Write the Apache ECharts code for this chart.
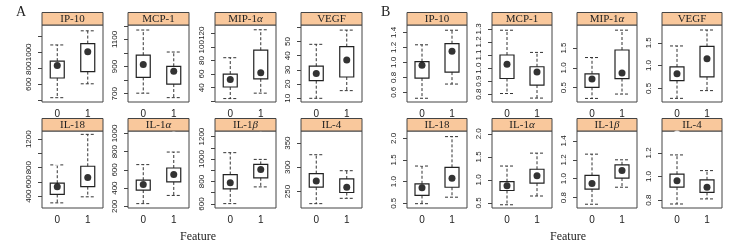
<!DOCTYPE html>
<html>
<head>
<meta charset="utf-8">
<script src="https://cdn.jsdelivr.net/npm/echarts@6/dist/echarts.min.js"></script>
<style>
  html, body { margin: 0; padding: 0; background: #fff; }
  #main { width: 732px; height: 247px; }
</style>
</head>
<body>
<div id="main"></div>
<script>
// categories
const cats = ['0', '1'];
const markers = ['IP-10', 'MCP-1', 'MIP-1α', 'VEGF', 'IL-18', 'IL-1α', 'IL-1β', 'IL-4'];

// panel A: [min, q1, median, q3, max] for feature 0 and feature 1
const boxA = [
    [[432, 679, 835, 890, 1093], [606, 759, 1009, 1110, 1270]],
    [[704, 820, 915, 984, 1169], [671, 771, 865, 902, 1007]],
    [[24, 41, 52, 60, 84], [32, 53, 62, 95, 125]],
    [[10, 22.4, 27.4, 32.6, 48], [15.4, 25, 37, 46.4, 58]],
    [[306, 424, 534, 582, 839], [391, 534, 663, 820, 1268]],
    [[230, 379, 439, 487, 658], [320, 468, 551, 621, 796]],
    [[603, 734, 788, 862, 1057], [752, 833, 907, 952, 997]],
    [[225, 259, 272, 287, 326], [236, 248, 259, 276, 293]]
];
const outA = [
    [[], []], [[], []], [[93], []], [[], []],
    [[878], []], [[], [982]], [[], [1212, 647]], [[365, 357, 347], []]
];
const rangeA = [[378, 1343], [639, 1206], [19, 132], [7.4, 61.6], [234, 1315], [182, 1027], [564, 1250], [216, 375]];
const ticksA = [
    [400, 600, 800, 1000, 1200], [700, 800, 900, 1000, 1100, 1200], [20, 40, 60, 80, 100, 120], [10, 20, 30, 40, 50, 60],
    [400, 600, 800, 1000, 1200], [200, 400, 600, 800, 1000], [600, 700, 800, 900, 1000, 1100, 1200], [250, 300, 350]
];
const labelsA = [
    [600, 800, 1000], [700, 900, 1100], [40, 60, 80, 100, 120], [10, 20, 30, 40, 50],
    [400, 600, 800, 1200], [200, 400, 600, 800, 1000], [600, 800, 1000, 1200], [250, 300, 350]
];

// panel B
const boxB = [
    [[0.52, 0.79, 0.96, 1.01, 1.235], [0.71, 0.87, 1.15, 1.25, 1.43]],
    [[0.805, 0.92, 1.03, 1.10, 1.29], [0.77, 0.87, 0.97, 1.01, 1.12]],
    [[0.23, 0.51, 0.72, 0.85, 1.26], [0.34, 0.73, 0.87, 1.45, 1.95]],
    [[0.28, 0.67, 0.82, 0.97, 1.43], [0.45, 0.75, 1.15, 1.42, 1.78]],
    [[0.49, 0.68, 0.86, 0.95, 1.36], [0.64, 0.87, 1.08, 1.33, 2.04]],
    [[0.46, 0.77, 0.87, 0.96, 1.30], [0.65, 0.93, 1.09, 1.23, 1.58]],
    [[0.73, 0.89, 0.95, 1.035, 1.26], [0.91, 1.007, 1.087, 1.147, 1.20]],
    [[0.767, 0.91, 0.964, 1.02, 1.183], [0.81, 0.865, 0.91, 0.972, 1.05]]
];
const outB = [
    [[], []], [[], []], [[1.42], []], [[], []],
    [[1.44], []], [[], [1.94]], [[], [1.445, 0.79]], [[1.36, 1.324, 1.268], []]
];
const rangeB = [[0.47, 1.50], [0.74, 1.33], [0.14, 2.08], [0.20, 1.89], [0.39, 2.17], [0.39, 2.06], [0.69, 1.505], [0.733, 1.386]];
const ticksB = [
    [0.6, 0.8, 1.0, 1.2, 1.4], [0.8, 0.9, 1.0, 1.1, 1.2, 1.3], [0.5, 1.0, 1.5], [0.5, 1.0, 1.5],
    [0.5, 1.0, 1.5, 2.0], [0.5, 1.0, 1.5, 2.0], [0.8, 1.0, 1.2, 1.4], [0.8, 1.0, 1.2]
];
const labelsB = ticksB;

// layout
const colA = [42, 128, 215, 301];
const colB = [407, 492, 577, 662];
const rowTop = [25, 131];
const plotH = 77;
const stripH = 12.5;

const chart = echarts.init(document.getElementById('main'), null, { renderer: 'canvas' });

function renderBox(params, api) {
    const c = api.value(0);
    const pMin = api.coord([c, api.value(1)]);
    const pQ1 = api.coord([c, api.value(2)]);
    const pQ3 = api.coord([c, api.value(4)]);
    const pMax = api.coord([c, api.value(5)]);
    const x = pMin[0];
    const half = 7;
    const dash = { stroke: '#333', lineWidth: 1, lineDash: [3, 2] };
    return {
        type: 'group',
        children: [
            { type: 'line', shape: { x1: x, y1: pQ3[1], x2: x, y2: pMax[1] }, style: dash },
            { type: 'line', shape: { x1: x, y1: pQ1[1], x2: x, y2: pMin[1] }, style: dash },
            { type: 'line', shape: { x1: x - half, y1: pMax[1], x2: x + half, y2: pMax[1] }, style: dash },
            { type: 'line', shape: { x1: x - half, y1: pMin[1], x2: x + half, y2: pMin[1] }, style: dash },
            { type: 'rect', shape: { x: x - half, y: pQ3[1], width: half * 2, height: pQ1[1] - pQ3[1] },
              style: { fill: 'none', stroke: '#222', lineWidth: 1.2 } }
        ]
    };
}

const option = {
    animation: false,
    grid: [], xAxis: [], yAxis: [], series: [], graphic: []
};

const sides = [
    { tag: 'A', boxes: boxA, outs: outA, range: rangeA, ticks: ticksA, labels: labelsA, cols: colA, w: 61, dec: 0, featX: 198 },
    { tag: 'B', boxes: boxB, outs: outB, range: rangeB, ticks: ticksB, labels: labelsB, cols: colB, w: 60, dec: 1, featX: 568 }
];

let gi = 0;
sides.forEach(s => {
    option.graphic.push({
        type: 'text', left: s.cols[0] - 26, top: 5,
        style: { text: s.tag, font: '14px "Liberation Serif"', fill: '#222' }
    });
    option.graphic.push({
        type: 'text', x: s.featX, y: 237,
        style: { text: 'Feature', font: '12px "Liberation Serif"', fill: '#222', align: 'center', verticalAlign: 'middle' }
    });
    for (let p = 0; p < 8; p++) {
        const row = p < 4 ? 0 : 1;
        const left = s.cols[p % 4];
        const top = rowTop[row];
        option.grid.push({
            left: left, top: top, width: s.w, height: plotH,
            show: true, borderColor: '#444', borderWidth: 1, backgroundColor: 'transparent'
        });
        option.xAxis.push({
            type: 'category', gridIndex: gi, data: cats,
            axisLine: { show: false }, axisTick: { show: false },
            axisLabel: { fontSize: 10, color: '#222', margin: 7, fontFamily: '"Liberation Sans"' }
        });
        option.yAxis.push({
            type: 'value', gridIndex: gi, min: s.range[p][0], max: s.range[p][1],
            splitLine: { show: false },
            axisLine: { show: false },
            axisTick: { show: true, length: 4, customValues: s.ticks[p], lineStyle: { color: '#444' } },
            axisLabel: {
                rotate: 90, fontSize: 8, color: '#222', margin: 9, fontFamily: '"Liberation Sans"',
                showMinLabel: true, showMaxLabel: true,
                customValues: s.labels[p],
                formatter: v => s.dec ? Number(v).toFixed(1) : String(v)
            }
        });
        // header strip
        option.graphic.push({
            type: 'rect',
            shape: { x: left, y: top - stripH, width: s.w, height: stripH },
            style: { fill: '#f9c89c', stroke: '#444', lineWidth: 1 }
        });
        const name = markers[p];
        const greek = name.endsWith('α') || name.endsWith('β');
        option.graphic.push({
            type: 'text', x: left + s.w / 2, y: top - stripH / 2 + 0.5,
            style: greek ? {
                text: '{n|' + name.slice(0, -1) + '}{g|' + name.slice(-1) + '}',
                align: 'center', verticalAlign: 'middle',
                rich: {
                    n: { font: '11px "Liberation Serif"', fill: '#222' },
                    g: { font: 'italic 11px "Liberation Serif"', fill: '#222' }
                }
            } : {
                text: name, font: '11px "Liberation Serif"', fill: '#222',
                align: 'center', verticalAlign: 'middle'
            }
        });
        // boxes, medians, outliers
        option.series.push({
            type: 'custom', xAxisIndex: gi, yAxisIndex: gi,
            renderItem: renderBox,
            encode: { x: 0, y: [1, 2, 3, 4, 5] },
            data: s.boxes[p].map((b, i) => [i].concat(b))
        });
        option.series.push({
            type: 'scatter', xAxisIndex: gi, yAxisIndex: gi,
            symbol: 'circle', symbolSize: 7,
            itemStyle: { color: '#000' },
            data: s.boxes[p].map((b, i) => [i, b[2]])
        });
        const pts = [];
        s.outs[p].forEach((list, i) => list.forEach(v => pts.push([i, v])));
        option.series.push({
            type: 'scatter', xAxisIndex: gi, yAxisIndex: gi,
            symbol: 'emptyCircle', symbolSize: 5,
            itemStyle: { color: '#fff', borderColor: '#555', borderWidth: 1 },
            data: pts
        });
        gi++;
    }
});

chart.setOption(option);
</script>
</body>
</html>
